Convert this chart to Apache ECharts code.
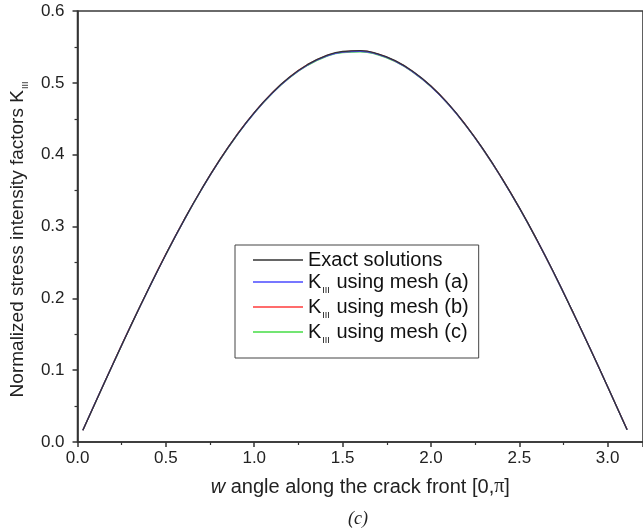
<!DOCTYPE html>
<html><head><meta charset="utf-8">
<script src="https://cdn.jsdelivr.net/npm/echarts@6/dist/echarts.min.js"></script>
<style>html,body{margin:0;padding:0;background:#fff}#c{width:643px;height:529px}</style>
</head><body><div id="c"></div>
<script>
var angles = [0.03,0.1,0.2,0.3,0.4,0.5,0.6,0.7,0.8,0.9,1.0,1.1,1.2,1.3,1.4,1.5,1.6,1.7,1.8,1.9,2.0,2.1,2.2,2.3,2.4,2.5,2.6,2.7,2.8,2.9,3.0,3.11];
var exact = [0.0164,0.0544,0.1083,0.1611,0.2122,0.2613,0.3077,0.3511,0.3910,0.4269,0.4586,0.4857,0.5080,0.5252,0.5371,0.5436,0.5447,0.5403,0.5306,0.5155,0.4956,0.4703,0.4402,0.4059,0.3677,0.3262,0.2812,0.2332,0.1825,0.1305,0.0769,0.0172];
var meshA = [0.0163,0.0545,0.1082,0.1612,0.2120,0.2611,0.3075,0.3508,0.3906,0.4264,0.4580,0.4851,0.5073,0.5245,0.5364,0.5428,0.5440,0.5396,0.5299,0.5149,0.4950,0.4698,0.4398,0.4055,0.3674,0.3259,0.2810,0.2330,0.1824,0.1304,0.0768,0.0172];
var meshB = [0.0165,0.0546,0.1085,0.1613,0.2124,0.2615,0.3079,0.3512,0.3911,0.4270,0.4586,0.4856,0.5078,0.5250,0.5368,0.5432,0.5443,0.5399,0.5302,0.5152,0.4953,0.4701,0.4400,0.4057,0.3676,0.3261,0.2811,0.2331,0.1825,0.1305,0.0769,0.0173];
var meshC = [0.0164,0.0543,0.1081,0.1609,0.2119,0.2610,0.3074,0.3507,0.3905,0.4263,0.4579,0.4849,0.5070,0.5241,0.5359,0.5422,0.5433,0.5390,0.5294,0.5145,0.4947,0.4696,0.4396,0.4054,0.3673,0.3258,0.2809,0.2329,0.1823,0.1303,0.0768,0.0171];
var xTicks = ['0.0','0.5','1.0','1.5','2.0','2.5','3.0'];
var yTicks = ['0.0','0.1','0.2','0.3','0.4','0.5','0.6'];
var names = ['Exact solutions','mesh (a)','mesh (b)','mesh (c)'];
var colors = ['#333333','#4a4aff','#ff3b3b','#44dd44'];

function pairs(v){ return angles.map(function(a,i){ return [a, v[i]]; }); }
var FONT = '"Liberation Sans", Arial, sans-serif';
var chart = echarts.init(document.getElementById('c'), null, {renderer:'canvas'});
var seriesData = [exact, meshA, meshB, meshC];
var order = [3,2,1,0];
var series = order.map(function(i){
  return {name:names[i], type:'line', data:pairs(seriesData[i]), showSymbol:false, symbol:'none',
    lineStyle:{width:1.3, color:colors[i]}, itemStyle:{color:colors[i]}, z: 2 + (i===0?4:(3-i)), smooth:true};
});
var subRich = function(col, fs){ return {
  k:{fontSize:fs, lineHeight:fs, fontFamily:FONT, color:col, verticalAlign:'top'},
  t:{fontSize:fs, lineHeight:fs, fontFamily:FONT, color:col, verticalAlign:'top'},
  s:{fontSize:Math.round(fs*0.45), lineHeight:Math.round(fs*0.45), fontFamily:FONT, color:col, verticalAlign:'top', padding:[Math.round(fs*0.7),1,0,1]}
};};
chart.setOption({
  animation:false,
  grid:{left:76, top:11, width:576, height:431, show:true, borderColor:'#3a3a3a', borderWidth:1.6, backgroundColor:'transparent'},
  xAxis:{type:'value', min:0, max:3.2, interval:0.5,
    axisLine:{show:true, lineStyle:{color:'#333', width:1.6}},
    axisTick:{show:true, inside:false, length:5, lineStyle:{color:'#333', width:1.5}},
    minorTick:{show:true, splitNumber:2, length:3, lineStyle:{color:'#333', width:1.2}},
    splitLine:{show:false},
    axisLabel:{color:'#222', fontSize:17, fontFamily:FONT, margin:8, showMaxLabel:false,
      formatter:function(v){ var k=Math.round(v/0.5); return Math.abs(v-k*0.5)<1e-9 && k<xTicks.length ? xTicks[k] : ''; }},
    name:'{i|w} angle along the crack front [0,{p|π}]', nameLocation:'middle', nameGap:35,
    nameTextStyle:{color:'#222', fontSize:20, fontFamily:FONT,
      rich:{i:{fontStyle:'italic', fontSize:20, fontFamily:FONT, color:'#222'}, p:{fontFamily:'"Liberation Serif", serif', fontSize:20, color:'#222'}}}
  },
  yAxis:{type:'value', min:0, max:0.6, interval:0.1,
    axisLine:{show:true, lineStyle:{color:'#333', width:1.6}},
    axisTick:{show:true, inside:false, length:5, lineStyle:{color:'#333', width:1.5}},
    minorTick:{show:true, splitNumber:2, length:3, lineStyle:{color:'#333', width:1.2}},
    splitLine:{show:false},
    axisLabel:{color:'#222', fontSize:17, fontFamily:FONT, margin:13,
      formatter:function(v){ var k=Math.round(v/0.1); return yTicks[k]; }},
    name:'{t|Normalized stress intensity factors K}{s|III}', nameLocation:'middle', nameGap:41,
    nameTextStyle:{color:'#222', fontSize:19, fontFamily:FONT, padding:[0,25,0,0], rich:subRich('#222',19)}
  },
  legend:{show:true, data:names, orient:'vertical', left:235, top:245,
    icon:'rect', itemWidth:50, itemHeight:1.3, itemGap:2,
    borderColor:'#444', borderWidth:1, padding:[5,10,13,18],
    formatter:function(n){ return n==='Exact solutions' ? '{t|'+n+'}' : '{k|K}{s|III}{t| using '+n+'}'; },
    textStyle:{color:'#111', fontSize:20, fontFamily:FONT, rich:subRich('#111',20)}
  },
  title:{text:'(c)', left:343, top:505, textStyle:{fontFamily:'"Liberation Serif", serif', fontStyle:'italic', fontWeight:'normal', fontSize:18, color:'#222'}},
  series: series
});
</script></body></html>
